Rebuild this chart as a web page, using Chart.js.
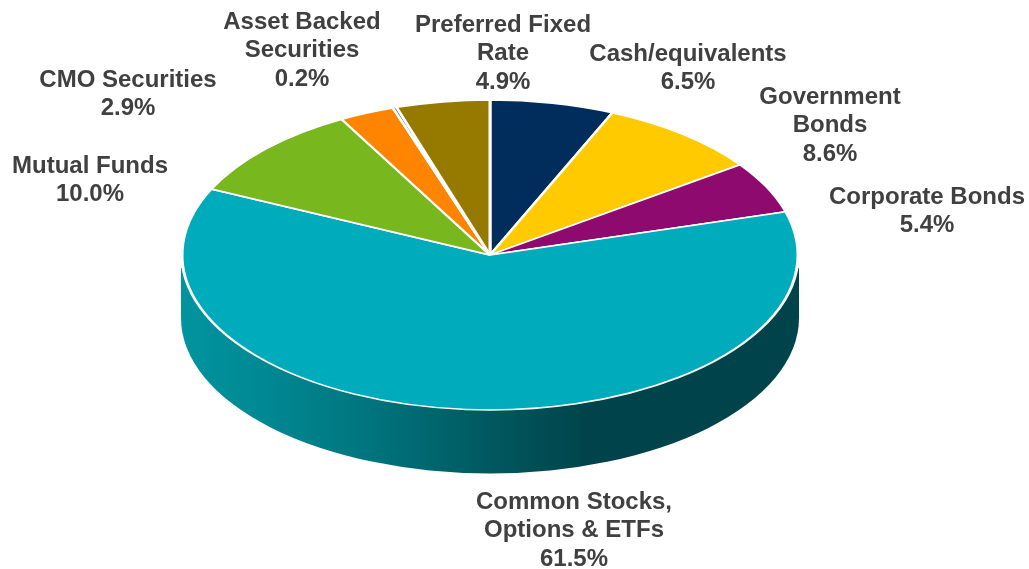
<!DOCTYPE html>
<html>
<head>
<meta charset="utf-8">
<title>Asset allocation</title>
<script src="https://cdn.jsdelivr.net/npm/chart.js@4"></script>
<style>
  html, body { margin: 0; padding: 0; background: #fff; }
  canvas { display: block; }
</style>
</head>
<body>
<canvas id="assetPie" width="1029" height="569"></canvas>
<script>
// Valores, en sentido horario desde las 12
const categories = ['Cash/equivalents', 'Government Bonds', 'Corporate Bonds', 'Common Stocks, Options & ETFs', 'Mutual Funds', 'CMO Securities', 'Asset Backed Securities', 'Preferred Fixed Rate'];
const labelLines = [['Cash/equivalents'], ['Government', 'Bonds'], ['Corporate Bonds'], ['Common Stocks,', 'Options & ETFs'], ['Mutual Funds'], ['CMO Securities'], ['Asset Backed', 'Securities'], ['Preferred Fixed', 'Rate']];
const shares = [6.5, 8.6, 5.4, 61.5, 10.0, 2.9, 0.2, 4.9];
const sliceColors = ['#002d5c', '#ffcb00', '#8e0a6f', '#00acbb', '#78b81e', '#ff8400', '#3d4f72', '#967a00'];

// Centro de la primera linea de cada etiqueta
const labelAnchors = [[688, 54], [830, 97], [927, 197], [574, 502], [90, 166], [128, 80], [302, 22], [503, 25]];

const TILT = 0.503;      // aplastamiento del disco
const DEPTH = 63;        // altura del canto
const LINE_HEIGHT = 28.6;

// Canto del disco y perspectiva
const tiltPlugin = {
    id: 'tilt',
    beforeDatasetsDraw(chart) {
        const arc = chart.getDatasetMeta(0).data[0];
        const ctx = chart.ctx;
        const cx = arc.x, cy = arc.y;
        const rx = arc.outerRadius + 1;
        const ry = rx * TILT;

        const grad = ctx.createLinearGradient(cx - rx, 0, cx + rx, 0);
        grad.addColorStop(0, '#00949f');
        grad.addColorStop(0.12, '#008a95');
        grad.addColorStop(0.3, '#00757e');
        grad.addColorStop(0.48, '#005b62');
        grad.addColorStop(0.66, '#00434a');
        grad.addColorStop(1, '#00434a');

        ctx.save();
        ctx.beginPath();
        ctx.moveTo(cx - rx, cy + 13);
        ctx.lineTo(cx - rx, cy + DEPTH);
        ctx.ellipse(cx, cy + DEPTH, rx, ry, 0, Math.PI, 0, true);
        ctx.lineTo(cx + rx, cy + 13);
        ctx.closePath();
        ctx.fillStyle = grad;
        ctx.fill();
        ctx.restore();

        ctx.save();
        ctx.translate(0, cy);
        ctx.scale(1, TILT);
        ctx.translate(0, -cy);
    },
    afterDatasetsDraw(chart) {
        chart.ctx.restore();
    }
};

// Etiquetas de texto alrededor del disco
const labelsPlugin = {
    id: 'sliceLabels',
    afterDraw(chart) {
        const ctx = chart.ctx;
        ctx.save();
        ctx.font = 'bold 24px "Liberation Sans", Arial, sans-serif';
        ctx.fillStyle = '#404040';
        ctx.textAlign = 'center';
        ctx.textBaseline = 'middle';
        labelLines.forEach((lines, i) => {
            const [x, y] = labelAnchors[i];
            const rows = lines.concat(shares[i].toFixed(1) + '%');
            rows.forEach((row, j) => ctx.fillText(row, x, y + j * LINE_HEIGHT));
        });
        ctx.restore();
    }
};

new Chart(document.getElementById('assetPie'), {
    type: 'pie',
    data: {
        labels: categories,
        datasets: [{
            data: shares,
            backgroundColor: sliceColors,
            borderColor: '#fff',
            borderWidth: 3,
            radius: 308,
            clip: false
        }]
    },
    options: {
        responsive: false,
        animation: false,
        layout: { padding: { right: 49, bottom: 59 } },
        plugins: {
            legend: { display: false },
            tooltip: { enabled: false }
        }
    },
    plugins: [tiltPlugin, labelsPlugin]
});
</script>
</body>
</html>
